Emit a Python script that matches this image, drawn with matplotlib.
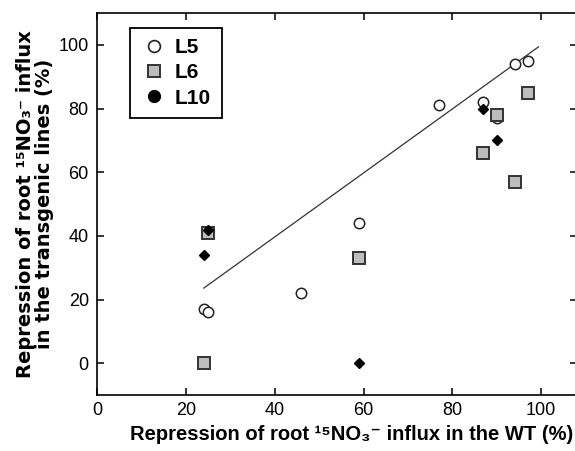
import matplotlib
matplotlib.use("Agg")
import matplotlib.pyplot as plt
from matplotlib.lines import Line2D

plt.rcParams['font.family'] = ['Liberation Sans', 'DejaVu Sans']

# Data (WT repression %, transgenic repression %)
l5_x = [24, 25, 46, 59, 77, 87, 90, 94, 97]
l5_y = [17, 16, 22, 44, 81, 82, 77, 94, 95]
l6_x = [24, 25, 59, 87, 90, 94, 97]
l6_y = [0, 41, 33, 66, 78, 57, 85]
l10_x = [24, 25, 59, 87, 90]
l10_y = [34, 42, 0, 80, 70]
fit_x = [24, 99.4]
fit_y = [23.6, 99.4]

x_ticks = [0, 20, 40, 60, 80, 100]
y_ticks = [0, 20, 40, 60, 80, 100]
legend_labels = ['L5', 'L6', 'L10']

fig = plt.figure(figsize=(5.75, 4.51), dpi=100)
ax = fig.add_axes([0.169, 0.124, 0.834, 0.847])

ax.plot(fit_x, fit_y, color='#333333', lw=0.9, zorder=2)
ax.plot(l5_x, l5_y, 'o', ms=7.5, mfc='white', mec='#222222', mew=1.1, zorder=3)
ax.plot(l6_x, l6_y, 's', ms=8, mfc='#bdbdbd', mec='#333333', mew=1.4, zorder=4)
ax.plot(l10_x, l10_y, 'D', ms=5.5, mfc='black', mec='black', mew=1, zorder=5)

ax.set_xlim(0, 108)
ax.set_ylim(-10, 110)
ax.set_xticks(x_ticks)
ax.set_yticks(y_ticks)
ax.tick_params(direction='in', top=True, right=True, length=5, width=1.1,
               labelsize=13)
ax.tick_params(axis='y', pad=6)
ax.tick_params(axis='x', pad=5)
for s in ax.spines.values():
    s.set_linewidth(1.2)

ax.set_xlabel('Repression of root ¹⁵NO₃⁻ influx in the WT (%)',
              fontsize=14.5, fontweight='bold', labelpad=4, x=0.531,
              family=['Liberation Sans', 'DejaVu Sans'])
ax.set_ylabel('Repression of root ¹⁵NO₃⁻ influx\nin the transgenic lines (%)',
              fontsize=14, fontweight='bold', labelpad=3, linespacing=1.0,
              family=['DejaVu Sans'])

handles = [
    Line2D([], [], ls='none', marker='o', ms=8.5, mfc='white', mec='#222222', mew=1.2),
    Line2D([], [], ls='none', marker='s', ms=8.5, mfc='#bdbdbd', mec='#333333', mew=1.4),
    Line2D([], [], ls='none', marker='o', ms=8.5, mfc='black', mec='black'),
]
leg = ax.legend(handles, legend_labels, loc='upper left', bbox_to_anchor=(0.069, 0.962),
                frameon=True, fancybox=False, framealpha=1, edgecolor='black',
                prop={'weight': 'bold', 'size': 15}, handletextpad=0.35,
                borderpad=0.5, labelspacing=0.3, handlelength=1.3, borderaxespad=0)
leg.get_frame().set_linewidth(1.3)

fig.savefig('out.png', dpi=100)
